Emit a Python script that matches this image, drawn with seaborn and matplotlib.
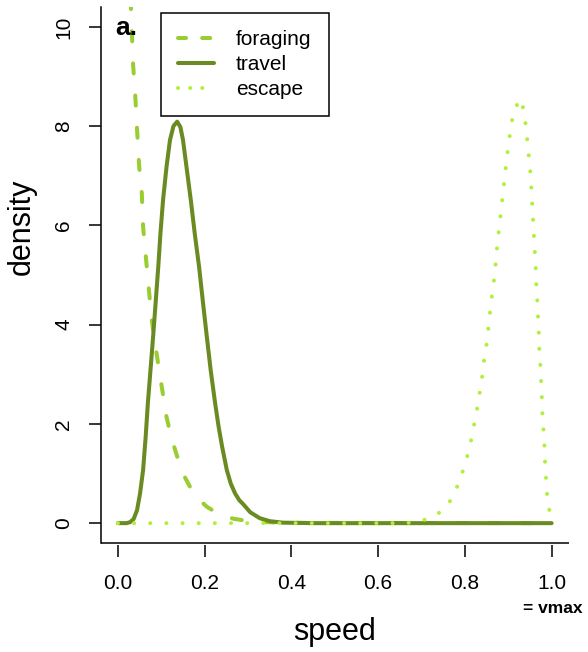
import matplotlib
matplotlib.use("Agg")
import matplotlib.pyplot as plt
from matplotlib.lines import Line2D
import pandas as pd
import seaborn as sns

# curves
foraging_x = [0.020, 0.030, 0.035, 0.040, 0.044, 0.049, 0.055, 0.058, 0.065, 0.070,
              0.078, 0.089, 0.101, 0.112, 0.121, 0.131, 0.142, 0.154, 0.170, 0.189,
              0.205, 0.220, 0.235, 0.250, 0.266, 0.290, 0.327, 0.360, 0.400, 1.000]
foraging_y = [13.9, 10.38, 9.23, 8.60, 7.94, 7.18, 6.65, 5.97, 5.30, 4.83,
              4.09, 3.42, 2.75, 2.14, 1.80, 1.50, 1.19, 0.93, 0.67, 0.46,
              0.33, 0.25, 0.185, 0.13, 0.09, 0.055, 0.028, 0.014, 0.006, 0.0]

travel_x = [0.000, 0.020, 0.028, 0.036, 0.044, 0.051, 0.058, 0.064, 0.069, 0.075,
            0.081, 0.087, 0.093, 0.098, 0.104, 0.112, 0.120, 0.128, 0.1366, 0.144,
            0.150, 0.158, 0.168, 0.177, 0.187, 0.196, 0.205, 0.214, 0.224, 0.232,
            0.240, 0.251, 0.260, 0.270, 0.280, 0.288, 0.305, 0.327, 0.350, 0.380,
            0.450, 1.000]
travel_y = [0.0, 0.0, 0.02, 0.08, 0.26, 0.60, 1.07, 1.75, 2.42, 3.08,
            3.75, 4.45, 5.17, 5.84, 6.51, 7.18, 7.72, 8.00, 8.09, 7.98,
            7.72, 7.18, 6.51, 5.84, 5.17, 4.45, 3.75, 3.07, 2.42, 1.95,
            1.55, 1.07, 0.80, 0.60, 0.46, 0.39, 0.22, 0.10, 0.04, 0.01,
            0.0, 0.0]

escape_x = [0.000, 0.665, 0.702, 0.737, 0.763, 0.780, 0.793, 0.804, 0.813, 0.820,
            0.827, 0.833, 0.839, 0.843, 0.849, 0.853, 0.857, 0.861, 0.866, 0.870,
            0.873, 0.877, 0.881, 0.885, 0.889, 0.893, 0.897, 0.902, 0.907, 0.914,
            0.930, 0.937, 0.942, 0.945, 0.949, 0.952, 0.954, 0.956, 0.958, 0.960,
            0.962, 0.964, 0.965, 0.968, 0.969, 0.971, 0.972, 0.975, 0.976, 0.978,
            0.979, 0.982, 0.984, 0.985, 0.988, 0.990, 0.997, 1.000]
escape_y = [0.0, 0.0, 0.05, 0.18, 0.40, 0.69, 0.99, 1.30, 1.61, 1.93,
            2.24, 2.57, 2.89, 3.21, 3.53, 3.85, 4.17, 4.50, 4.82, 5.14,
            5.46, 5.79, 6.11, 6.43, 6.75, 7.07, 7.39, 7.72, 8.04, 8.35,
            8.55, 8.23, 7.91, 7.59, 7.26, 6.94, 6.62, 6.30, 5.97, 5.65,
            5.33, 5.01, 4.68, 4.36, 4.04, 3.72, 3.39, 3.07, 2.75, 2.43,
            2.10, 1.78, 1.46, 1.13, 0.81, 0.48, 0.16, 0.0]

modes = ["foraging", "travel", "escape"]
colors = {"foraging": "#9ACD32", "travel": "#698B22", "escape": "#B3EE3A"}
x_ticks = [0.0, 0.2, 0.4, 0.6, 0.8, 1.0]
x_tick_labels = ["0.0", "0.2", "0.4", "0.6", "0.8", "1.0"]
y_ticks = [0, 2, 4, 6, 8, 10]

df = pd.concat([
    pd.DataFrame({"speed": foraging_x, "density": foraging_y, "mode": "foraging"}),
    pd.DataFrame({"speed": travel_x, "density": travel_y, "mode": "travel"}),
    pd.DataFrame({"speed": escape_x, "density": escape_y, "mode": "escape"}),
])

sns.set_style("white")
plt.rcParams["font.family"] = ["Liberation Sans", "DejaVu Sans"]
plt.rcParams["text.color"] = "black"
plt.rcParams["xtick.color"] = "black"
plt.rcParams["ytick.color"] = "black"

fig = plt.figure(figsize=(5.88, 6.52), dpi=100)
ax = fig.add_axes([100.6 / 588, 1 - 543 / 652, 468.4 / 588, 536 / 652])

lw = 2.9
sns.lineplot(data=df, x="speed", y="density", hue="mode", style="mode",
             hue_order=modes, style_order=modes, palette=colors,
             dashes={"foraging": (2.5, 5.5), "travel": "", "escape": (0.01, 4.0)},
             estimator=None, sort=False, legend=False, linewidth=lw,
             dash_capstyle="round", solid_capstyle="round",
             solid_joinstyle="round", ax=ax)

ax.set_xlim(-0.04, 1.04)
ax.set_ylim(-0.4, 10.4)
ax.set_xticks(x_ticks)
ax.set_xticklabels(x_tick_labels)
ax.set_yticks(y_ticks)
ax.set(xlabel="", ylabel="")

for side in ["top", "right"]:
    ax.spines[side].set_visible(False)
ax.spines["left"].set_linewidth(1.1)
ax.spines["left"].set_color("black")
ax.spines["bottom"].set_position(("outward", 1.5))
ax.spines["bottom"].set_visible(False)
ax.plot([0, 1], [0, 0], transform=ax.transAxes, color="black", lw=1.1,
        clip_on=False, solid_capstyle="butt")

ax.tick_params(axis="x", direction="out", length=8.6, width=1.1, color="black",
               labelcolor="black", labelsize=15, pad=12.5, bottom=True)
ax.tick_params(axis="y", direction="out", length=8.6, width=1.1, color="black",
               labelcolor="black", labelsize=15, pad=11, labelrotation=90, left=True)
for lab in ax.get_yticklabels():
    lab.set_verticalalignment("center")

handles = [
    Line2D([], [], color=colors["foraging"], lw=lw, dashes=(2.0, 4.0), dash_capstyle="round"),
    Line2D([], [], color=colors["travel"], lw=lw, solid_capstyle="round"),
    Line2D([], [], color=colors["escape"], lw=lw, dashes=(0.01, 3.0), dash_capstyle="round"),
]
leg = ax.legend(handles, modes, loc="upper left",
                bbox_to_anchor=((161 - 100.6) / 468.4, (543 - 13) / 536),
                borderaxespad=0, fontsize=15, frameon=True, fancybox=False,
                framealpha=1, edgecolor="black", borderpad=0.82,
                handlelength=1.73, handletextpad=1.05, labelspacing=0.29)
leg.get_frame().set_linewidth(1.1)

fig.text(115 / 588, 1 - 35 / 652, "a.", fontsize=19, fontweight="bold",
         ha="left", va="baseline")
fig.text(22 / 588, 1 - 227 / 652, "density", fontsize=22, rotation=90,
         ha="center", va="center")
fig.text(335 / 588, 1 - 632 / 652, "speed", fontsize=22, ha="center", va="center")
fig.text(552.5 / 588, 1 - 613 / 652, "= vmax", fontsize=12.5, fontweight="bold",
         ha="center", va="baseline")

fig.savefig("out.png", dpi=100)
